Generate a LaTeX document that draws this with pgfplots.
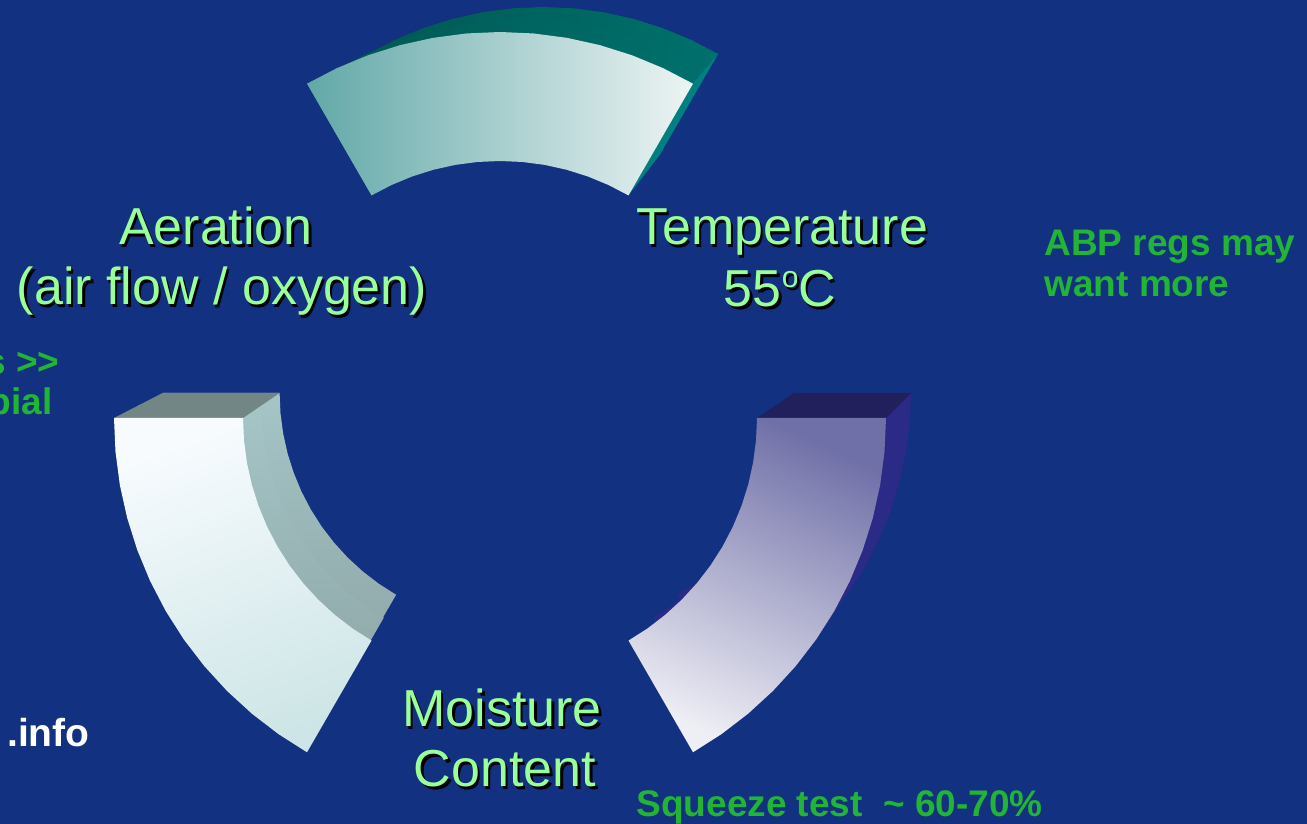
\documentclass[border=0pt]{standalone}
\usepackage{fontspec}
\setmainfont{Liberation Sans}
\usepackage{pgfplots}
\pgfplotsset{compat=1.18}
\definecolor{bg}{RGB}{18,49,128}
\definecolor{lgreen}{RGB}{153,255,153}
\definecolor{dgreen}{RGB}{34,180,52}
\definecolor{topL}{RGB}{98,168,168}
\definecolor{topR}{RGB}{238,244,244}
\definecolor{topbandL}{RGB}{0,88,84}
\definecolor{topbandR}{RGB}{0,112,108}
\definecolor{topend}{RGB}{0,128,128}
\definecolor{blT}{RGB}{247,251,254}
\definecolor{blB}{RGB}{205,229,230}
\definecolor{blbandT}{RGB}{165,197,199}
\definecolor{blbandB}{RGB}{140,163,163}
\definecolor{blcap}{RGB}{115,134,134}
\definecolor{brT}{RGB}{112,112,168}
\definecolor{brB}{RGB}{238,238,245}
\definecolor{brband}{RGB}{44,42,135}
\definecolor{brcap}{RGB}{33,31,92}
\tikzset{
  lab/.style={anchor=base, font=\fontsize{52}{60}\selectfont},
  note/.style={font=\fontsize{37}{41}\selectfont\bfseries}
}
\newcommand{\degsup}{\raisebox{19pt}{\fontsize{30}{30}\selectfont o}}
\begin{document}
\begin{tikzpicture}
\begin{axis}[
  x=1pt, y=1pt,
  xmin=-500, xmax=807, ymin=-406, ymax=418,
  at={(0,0)}, anchor=south west,
  axis line style={draw=none},
  xtick=\empty, ytick=\empty,
  axis background/.style={fill=bg},
  clip=false
]
% ===== Top segment =====
\addplot[draw=none, left color=topbandL, right color=topbandR, data cs=polar, xshift=43pt, yshift=61pt] coordinates {
(60,350)(65,350)(70,350)(75,350)(80,350)(85,350)(90,350)(95,350)(100,350)(105,350)(110,350)(115,350)(120,350)
(120,233)(115,233)(110,233)(105,233)(100,233)(95,233)(90,233)(85,233)(80,233)(75,233)(70,233)(65,233)(60,233)} -- cycle;
\addplot[draw=none, left color=topbandL, right color=topbandR, data cs=polar, xshift=21.5pt, yshift=30.5pt] coordinates {
(60,368)(65,368)(70,368)(75,368)(80,368)(85,368)(90,368)(95,368)(100,368)(105,368)(110,368)(115,368)(120,368)
(120,245)(115,245)(110,245)(105,245)(100,245)(95,245)(90,245)(85,245)(80,245)(75,245)(70,245)(65,245)(60,245)} -- cycle;
\addplot[draw=none, fill=topbandL] coordinates {(-193,334.3)(-128.5,222.6)(-73.5,262.8)(-132,364.1)} -- cycle;
\addplot[draw=none, fill=topend] coordinates {(193,334.3)(128.5,222.6)(159.5,262.8)(218,364.1)} -- cycle;
\addplot[draw=none, left color=topL, right color=topR, data cs=polar] coordinates {
(60,386)(65,386)(70,386)(75,386)(80,386)(85,386)(90,386)(95,386)(100,386)(105,386)(110,386)(115,386)(120,386)
(120,257)(115,257)(110,257)(105,257)(100,257)(95,257)(90,257)(85,257)(80,257)(75,257)(70,257)(65,257)(60,257)} -- cycle;

% ===== Bottom-left segment =====
\addplot[draw=none, top color=blbandT, bottom color=blbandB, data cs=polar, xshift=12.6pt, yshift=25pt] coordinates {
(180,350)(185,350)(190,350)(195,350)(200,350)(205,350)(210,350)(215,350)(220,350)(225,350)(230,350)(235,350)(240,350)
(240,233)(235,233)(230,233)(225,233)(220,233)(215,233)(210,233)(205,233)(200,233)(195,233)(190,233)(185,233)(180,233)} -- cycle;
\addplot[draw=none, top color=blbandT, bottom color=blbandB, data cs=polar, xshift=6.3pt, yshift=12.5pt] coordinates {
(180,368)(185,368)(190,368)(195,368)(200,368)(205,368)(210,368)(215,368)(220,368)(225,368)(230,368)(235,368)(240,368)
(240,245)(235,245)(230,245)(225,245)(220,245)(215,245)(210,245)(205,245)(200,245)(195,245)(190,245)(185,245)(180,245)} -- cycle;
\addplot[draw=none, fill=blcap] coordinates {(-386,0)(-257,0)(-220.4,25)(-337.4,25)} -- cycle;
\addplot[draw=none, top color=blT, bottom color=blB, shading angle=20, data cs=polar] coordinates {
(180,386)(185,386)(190,386)(195,386)(200,386)(205,386)(210,386)(215,386)(220,386)(225,386)(230,386)(235,386)(240,386)
(240,257)(235,257)(230,257)(225,257)(220,257)(215,257)(210,257)(205,257)(200,257)(195,257)(190,257)(185,257)(180,257)} -- cycle;

% ===== Bottom-right segment =====
\addplot[draw=none, fill=brband, data cs=polar, xshift=61pt, yshift=25pt] coordinates {
(300,350)(305,350)(310,350)(315,350)(320,350)(325,350)(330,350)(335,350)(340,350)(345,350)(350,350)(355,350)(360,350)
(360,233)(355,233)(350,233)(345,233)(340,233)(335,233)(330,233)(325,233)(320,233)(315,233)(310,233)(305,233)(300,233)} -- cycle;
\addplot[draw=none, fill=brband, data cs=polar, xshift=30.5pt, yshift=12.5pt] coordinates {
(300,368)(305,368)(310,368)(315,368)(320,368)(325,368)(330,368)(335,368)(340,368)(345,368)(350,368)(355,368)(360,368)
(360,245)(355,245)(350,245)(345,245)(340,245)(335,245)(330,245)(325,245)(320,245)(315,245)(310,245)(305,245)(300,245)} -- cycle;
\addplot[draw=none, fill=brcap] coordinates {(386,0)(257,0)(294,25)(411,25)} -- cycle;
\addplot[draw=none, top color=brT, bottom color=brB, shading angle=-25, data cs=polar] coordinates {
(300,386)(305,386)(310,386)(315,386)(320,386)(325,386)(330,386)(335,386)(340,386)(345,386)(350,386)(355,386)(360,386)
(360,257)(355,257)(350,257)(345,257)(340,257)(335,257)(330,257)(325,257)(320,257)(315,257)(310,257)(305,257)(300,257)} -- cycle;

% ===== Labels with shadow =====
\node[lab, text=black, xshift=2.5pt, yshift=-2.5pt] at (axis cs:-284,173) {Aeration};
\node[lab, text=lgreen] at (axis cs:-284,173) {Aeration};
\node[lab, text=black, xshift=2.5pt, yshift=-2.5pt] at (axis cs:-278,113) {(air flow / oxygen)};
\node[lab, text=lgreen] at (axis cs:-278,113) {(air flow / oxygen)};
\node[lab, text=black, xshift=2.5pt, yshift=-2.5pt] at (axis cs:282,173) {Temperature};
\node[lab, text=lgreen] at (axis cs:282,173) {Temperature};
\node[lab, text=black, xshift=2.5pt, yshift=-2.5pt] at (axis cs:280,111) {55\degsup C};
\node[lab, text=lgreen] at (axis cs:280,111) {55\degsup C};
\node[lab, text=black, xshift=2.5pt, yshift=-2.5pt] at (axis cs:2,-309) {Moisture};
\node[lab, text=lgreen] at (axis cs:2,-309) {Moisture};
\node[lab, text=black, xshift=2.5pt, yshift=-2.5pt] at (axis cs:5,-369) {Content};
\node[lab, text=lgreen] at (axis cs:5,-369) {Content};

% ===== Notes =====
\node[note, text=dgreen, anchor=base west] at (axis cs:541,162) {ABP regs may};
\node[note, text=dgreen, anchor=base west] at (axis cs:541,121) {want more};
\node[note, text=dgreen, anchor=base west] at (axis cs:133,-399) {Squeeze test\ \ \textasciitilde\ 60-70\%};
\node[note, text=dgreen, anchor=base east] at (axis cs:-437,43) {s >\kern0pt>};
\node[note, text=dgreen, anchor=base east] at (axis cs:-444,3) {bial};
\node[note, text=white, anchor=base east, font=\fontsize{39}{41}\selectfont\bfseries] at (axis cs:-407,-329) {.info};
\end{axis}
\pgfresetboundingbox
\path[use as bounding box] (0,0) rectangle (1307pt,824pt);
\end{tikzpicture}
\end{document}
